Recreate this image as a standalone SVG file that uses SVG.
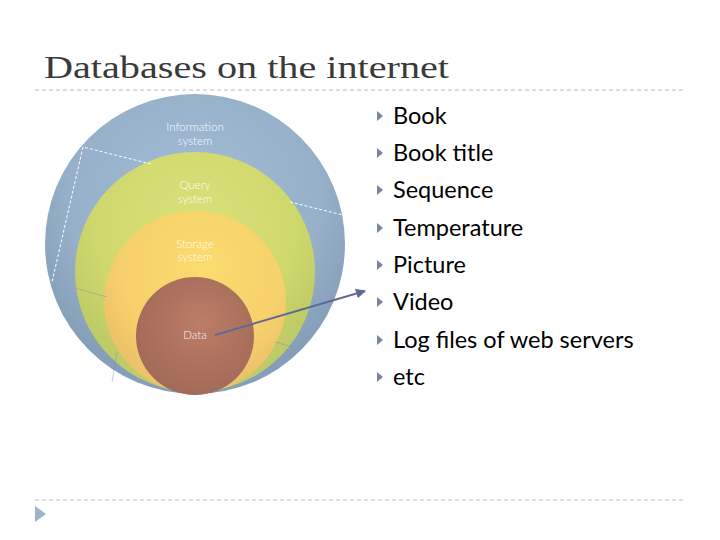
<svg xmlns="http://www.w3.org/2000/svg" width="720" height="540" viewBox="0 0 720 540">
<defs>
<radialGradient id="gBlue" cx="0.5" cy="0.35" r="0.6">
<stop offset="0" stop-color="#a3bdd6"/><stop offset="0.7" stop-color="#96b0ca"/><stop offset="1" stop-color="#869fb9"/>
</radialGradient>
<radialGradient id="gGreen" cx="0.5" cy="0.3" r="0.6">
<stop offset="0" stop-color="#dbe07a"/><stop offset="0.7" stop-color="#cfd86c"/><stop offset="1" stop-color="#bfcb66"/>
</radialGradient>
<radialGradient id="gYellow" cx="0.55" cy="0.3" r="0.65">
<stop offset="0" stop-color="#fcdc6e"/><stop offset="0.7" stop-color="#f6d06c"/><stop offset="1" stop-color="#ecc26a"/>
</radialGradient>
<radialGradient id="gBrown" cx="0.55" cy="0.4" r="0.6">
<stop offset="0" stop-color="#bb7d67"/><stop offset="1" stop-color="#a26a58"/>
</radialGradient>
<marker id="arr" viewBox="0 0 10 10" refX="9" refY="5" markerWidth="5" markerHeight="5" orient="auto">
<path d="M0,0 L10,5 L0,10 z" fill="#5d6a96"/>
</marker>
<path id="bul" d="M0,-5 L6,0 L0,5 z" fill="#7a84a8"/>
<style>
.title{font-family:"Liberation Serif",serif;font-size:32px;fill:#3a3a3a}
.dash{stroke:#b8bcc4;stroke-width:1;stroke-dasharray:4,3;fill:none}
.lbl{font-family:"Lato","Liberation Sans",sans-serif;font-size:11.5px;fill:#ffffff;fill-opacity:0.95;text-anchor:middle;font-weight:300}
.item{font-family:"Lato","Liberation Sans",sans-serif;font-size:23.5px;fill:#000}
.wd{stroke:#ffffff;stroke-width:1;stroke-dasharray:3,2;fill:none}
.fd{stroke:#7d8aa0;stroke-width:0.7;stroke-opacity:0.6;fill:none}
</style>
</defs>
<rect width="720" height="540" fill="#ffffff"/>
<text class="title" x="44" y="78" textLength="405" lengthAdjust="spacingAndGlyphs">Databases on the internet</text>
<line class="dash" x1="35" y1="90" x2="685" y2="90"/>
<line class="dash" x1="35" y1="500" x2="685" y2="500"/>
<path d="M35,506 L46,514 L35,522 z" fill="#9fb4cc"/>

<g id="info"><circle cx="195" cy="244" r="150" fill="url(#gBlue)"/>
<text class="lbl" x="195" y="131">Information</text><text class="lbl" x="195" y="145">system</text></g>
<g id="query"><circle cx="195" cy="272" r="120" fill="url(#gGreen)"/>
<text class="lbl" x="195" y="189">Query</text><text class="lbl" x="195" y="203">system</text></g>
<g id="storage"><circle cx="195" cy="302" r="91" fill="url(#gYellow)"/>
<text class="lbl" x="195" y="248">Storage</text><text class="lbl" x="195" y="261">system</text></g>
<g id="data"><circle cx="195" cy="336" r="59" fill="url(#gBrown)"/>
<text class="lbl" x="195" y="339">Data</text></g>

<g id="guides">
<polyline class="wd" points="151,164 83,147 52,282"/>
<line class="wd" x1="290" y1="202" x2="343" y2="215"/>
<line class="fd" x1="75" y1="288" x2="107" y2="297"/>
<line class="fd" x1="117" y1="352" x2="112" y2="382"/>
<line class="fd" x1="275" y1="342" x2="293" y2="347"/>
</g>

<g id="connectors">
<line x1="215" y1="335" x2="365" y2="291" stroke="#5d6a96" stroke-width="2" marker-end="url(#arr)"/>
</g>

<g id="list">
<use href="#bul" x="377" y="116"/><text class="item" x="393" y="124">Book</text>
<use href="#bul" x="377" y="153"/><text class="item" x="393" y="161">Book title</text>
<use href="#bul" x="377" y="190"/><text class="item" x="393" y="198">Sequence</text>
<use href="#bul" x="377" y="228"/><text class="item" x="393" y="236">Temperature</text>
<use href="#bul" x="377" y="265"/><text class="item" x="393" y="273">Picture</text>
<use href="#bul" x="377" y="302"/><text class="item" x="393" y="310">Video</text>
<use href="#bul" x="377" y="340"/><text class="item" x="393" y="348">Log files of web servers</text>
<use href="#bul" x="377" y="377"/><text class="item" x="393" y="385">etc</text>
</g>
</svg>
